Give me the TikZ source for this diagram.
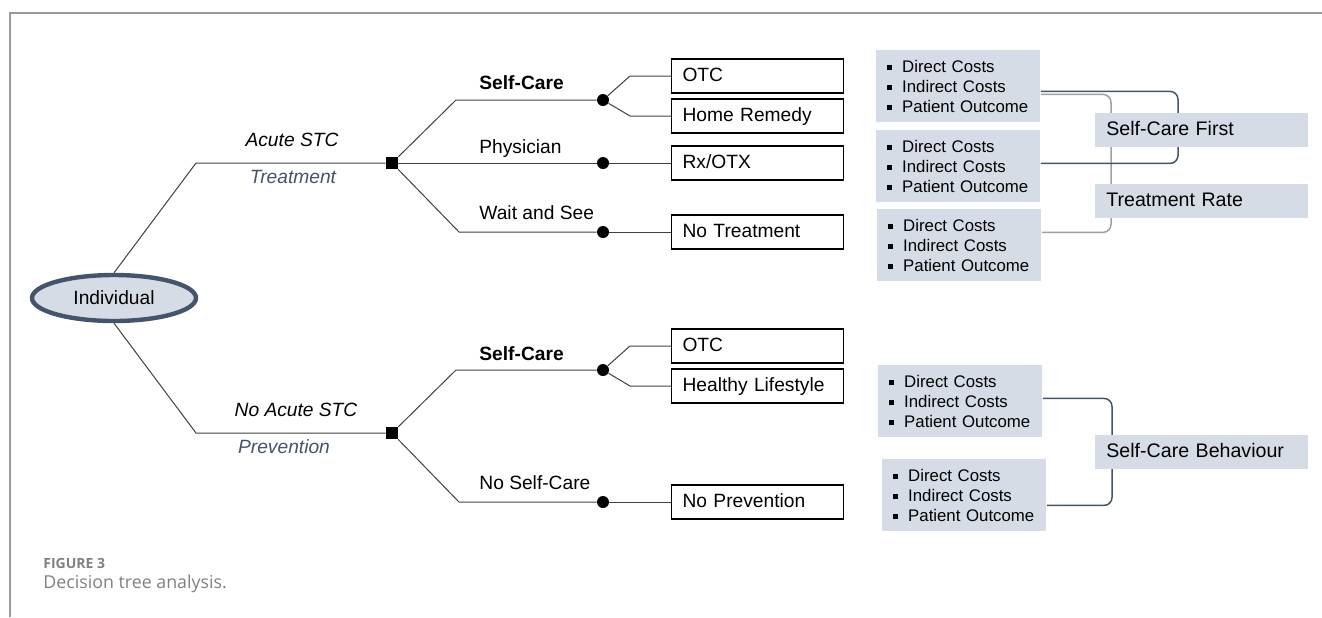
\documentclass[tikz,border=0pt]{standalone}
\usepackage{fontspec}
\setmainfont{Liberation Sans}
\newfontfamily\capfont{Open Sans}
\usepackage{tikz}
\usetikzlibrary{shapes.geometric}
\definecolor{slate}{HTML}{44546A}
\definecolor{pale}{HTML}{D6DCE5}
\definecolor{capgray}{HTML}{808080}
\definecolor{linkgray}{HTML}{A0A0A0}
\newcommand{\sqb}{\raisebox{0.25ex}{\rule{2.4pt}{2.4pt}}\hspace{5pt}}

\begin{document}
\begin{tikzpicture}[x=0.5pt,y=-0.5pt,
  br/.style={draw=black!75,line width=0.5pt},
  dec/.style={fill=black,minimum size=6pt,inner sep=0pt},
  chance/.style={circle,fill=black,minimum size=6pt,inner sep=0pt},
  lab/.style={anchor=west,inner sep=0pt,font=\fontsize{9.6}{11.5}\selectfont},
  leaf/.style={draw,line width=0.55pt,anchor=west,minimum height=17pt,text width=75pt,
    inner xsep=5.5pt,inner ysep=0pt,align=left,text height=7pt,text depth=2pt,
    font=\fontsize{9.6}{11.5}\selectfont},
  cost/.style={fill=pale,anchor=north west,minimum height=36pt,text width=71pt,
    inner xsep=5.5pt,align=left,font=\fontsize{8.4}{10}\selectfont},
  goal/.style={fill=pale,anchor=north west,minimum height=17pt,text width=95.5pt,
    inner xsep=5.5pt,inner ysep=0pt,align=left,text height=7pt,text depth=2pt,
    font=\fontsize{9.8}{11.5}\selectfont},
  link/.style={line width=0.75pt,rounded corners=4pt}]
\useasboundingbox (0,0) rectangle (1322,617);
\draw[capgray!80,line width=0.75pt] (1322,13) -| (10,617);

% root and decisions
\node[ellipse,draw=slate,line width=2.2pt,fill=pale,minimum width=82pt,minimum height=23pt,
  inner sep=0pt,font=\fontsize{9.6}{11.5}\selectfont] (ind) at (114,298) {Individual};
\node[dec] (d1) at (392,163) {};
\node[dec] (d2) at (392,433) {};
\coordinate (e1) at (196,163);
\coordinate (e2) at (196,433);
\draw[br] (ind.north) -- (e1) -- (d1);
\draw[br] (ind.south) -- (e2) -- (d2);
\node[font=\fontsize{9.6}{11.5}\selectfont\itshape] (acute) at (292,140) {Acute STC};
\node[font=\fontsize{9.6}{11.5}\selectfont\itshape,text=slate] (treat) at (293,177) {Treatment};
\node[font=\fontsize{9.6}{11.5}\selectfont\itshape] (noacute) at (296,410) {No Acute STC};
\node[font=\fontsize{9.6}{11.5}\selectfont\itshape,text=slate] (prev) at (284,447) {Prevention};

% treatment arm
\node[chance] (c1) at (603,100) {};
\node[chance] (c2) at (603,163) {};
\node[chance] (c3) at (603,232) {};
\coordinate (e3) at (456,100);
\coordinate (e4) at (459,232);
\draw[br] (d1) -- (e3) -- (c1);
\draw[br] (d1) -- (c2);
\draw[br] (d1) -- (e4) -- (c3);
\node[lab] (sc1) at (479,83) {\textbf{Self-Care}};
\node[lab] (phys) at (479,149) {Physician};
\node[lab] (wait) at (479,213) {Wait and See};
\node[leaf] (otc1) at (671,76) {OTC};
\node[leaf] (home) at (671,116) {Home Remedy};
\node[leaf] (rx) at (671,163) {Rx/OTX};
\node[leaf] (notr) at (671,232) {No Treatment};
\coordinate (f1) at (630,76);
\coordinate (f2) at (630,116);
\draw[br] (c1) -- (f1) -- (otc1.west);
\draw[br] (c1) -- (f2) -- (home.west);
\draw[br] (c2) -- (rx.west);
\draw[br] (c3) -- (notr.west);

% prevention arm
\node[chance] (c4) at (603,370) {};
\node[chance] (c5) at (603,502) {};
\coordinate (e5) at (456,370);
\coordinate (e6) at (459,502);
\draw[br] (d2) -- (e5) -- (c4);
\draw[br] (d2) -- (e6) -- (c5);
\node[lab] (sc2) at (479,354) {\textbf{Self-Care}};
\node[lab] (nosc) at (479,483) {No Self-Care};
\node[leaf] (otc2) at (671,346) {OTC};
\node[leaf] (life) at (671,386) {Healthy Lifestyle};
\node[leaf] (nopr) at (671,502) {No Prevention};
\coordinate (f3) at (630,346);
\coordinate (f4) at (630,386);
\draw[br] (c4) -- (f3) -- (otc2.west);
\draw[br] (c4) -- (f4) -- (life.west);
\draw[br] (c5) -- (nopr.west);

% outcomes
\node[cost] (k1) at (876,50) {\sqb Direct Costs\\\sqb Indirect Costs\\\sqb Patient Outcome};
\node[cost] (k2) at (876,130) {\sqb Direct Costs\\\sqb Indirect Costs\\\sqb Patient Outcome};
\node[cost] (k3) at (877,209) {\sqb Direct Costs\\\sqb Indirect Costs\\\sqb Patient Outcome};
\node[cost] (k4) at (878,365) {\sqb Direct Costs\\\sqb Indirect Costs\\\sqb Patient Outcome};
\node[cost] (k5) at (882,459) {\sqb Direct Costs\\\sqb Indirect Costs\\\sqb Patient Outcome};
\coordinate (m1) at (1178,130);
\coordinate (m2) at (1111,160);
\coordinate (m3) at (1112,452);
\draw[link,linkgray] ([yshift=-4pt]k1.east) -| (m2) |- ([yshift=6.5pt]k3.east);
\draw[link,slate] ([yshift=-2.5pt]k1.east) -| (m1) |- ([yshift=1.5pt]k2.east);
\draw[link,slate] ([yshift=1.5pt]k4.east) -| (m3) |- ([yshift=-5pt]k5.east);
\node[goal] (first) at (1095,113) {Self-Care First};
\node[goal] (rate) at (1095,184) {Treatment Rate};
\node[goal] (behav) at (1095,435) {Self-Care Behaviour};

% caption
\node[anchor=west,inner sep=0pt,text=capgray,font=\capfont\bfseries\fontsize{7}{8}\selectfont] (fig) at (43,563) {FIGURE 3};
\node[anchor=west,inner sep=0pt,text=capgray,font=\capfont\fontsize{8.9}{10}\selectfont] (cap) at (43,584) {Decision tree analysis.};
\end{tikzpicture}
\end{document}
